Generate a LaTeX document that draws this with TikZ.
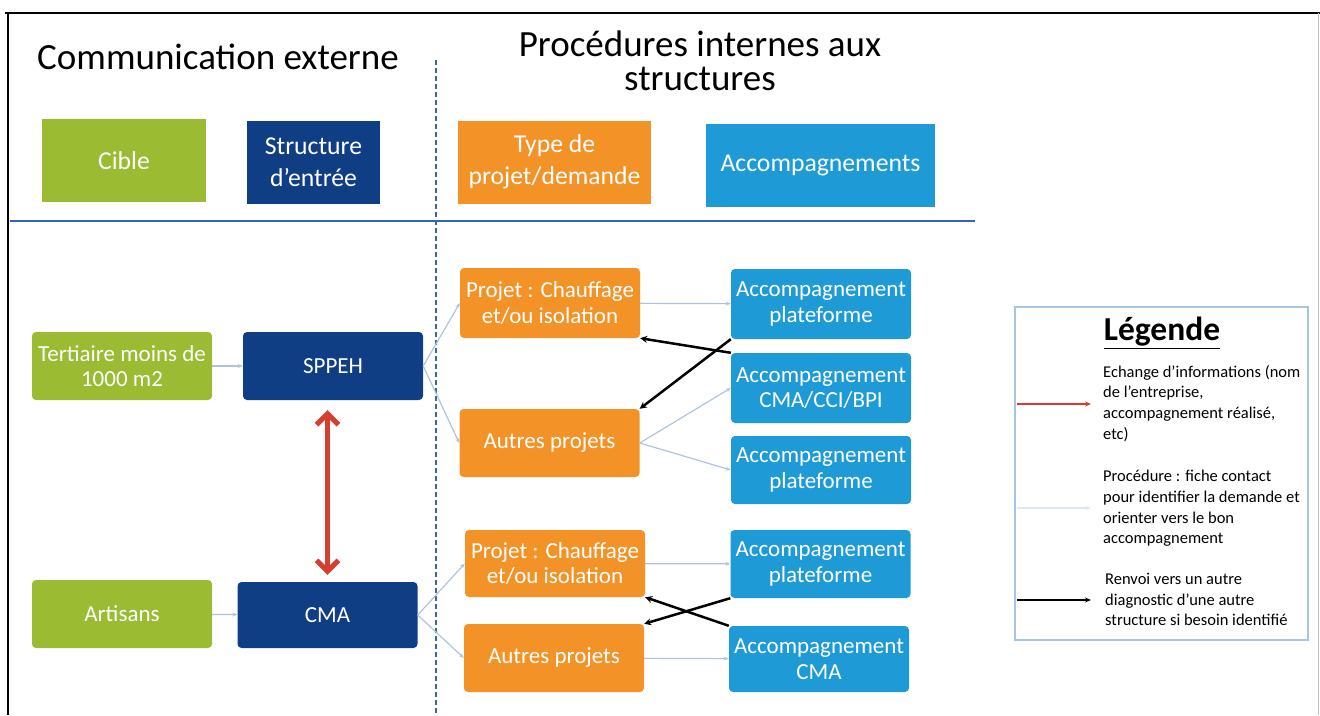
\documentclass[tikz,border=0pt]{standalone}
\usepackage{fontspec}
\setmainfont{Carlito}
\usetikzlibrary{arrows.meta}
\definecolor{vertcible}{RGB}{155,187,50}
\definecolor{bleufonce}{RGB}{16,62,133}
\definecolor{orangeprojet}{RGB}{243,146,38}
\definecolor{bleuclair}{RGB}{30,155,215}
\definecolor{bleutrait}{RGB}{50,100,190}
\definecolor{gristrait}{RGB}{175,195,225}
\definecolor{rougeechange}{RGB}{214,62,48}
\definecolor{bordlegende}{RGB}{165,198,225}
\tikzset{
	boite/.style={rounded corners=4pt, minimum width=180pt, minimum height=68pt, inner sep=2pt, text=white, align=center, font=\fontsize{23}{25.5}\selectfont},
	entete/.style={minimum height=83pt, inner sep=2pt, text=white, align=center, font=\fontsize{25.7}{32}\selectfont},
	procedure/.style={draw=gristrait, line width=1.2pt, -{Stealth[length=5pt,width=4pt]}},
	renvoi/.style={draw=black, line width=2.5pt, -{Stealth[length=7pt,width=7pt]}},
	echange/.style={draw=rougeechange, line width=5pt, {Straight Barb[length=11pt,width=22pt]}-{Straight Barb[length=11pt,width=22pt]}},
	legtexte/.style={anchor=north west, align=left, inner sep=0pt, font=\fontsize{16.5}{20.7}\selectfont}
}
\begin{document}
\begin{tikzpicture}[x=1pt, y=-1pt]
		%%%%% START %%%%%
		\useasboundingbox (0, 0) rectangle (1320, 715);
		
		\draw[line width=2pt] (5, 13) -- (1320, 13);
		\draw[line width=2.5pt] (8, 13) -- (8, 715);
		\draw[line width=1pt, color=black!25] (1318, 13) -- (1318, 715);
		
		\node[font=\fontsize{37}{34}\selectfont] (titreext) at (218, 57) {Communication externe};
		\node[align=center, font=\fontsize{37}{34}\selectfont] (titreint) at (700, 61) {Procédures internes aux\\structures};
		
		\draw[line width=2pt, color=bleutrait] (10, 221) -- (975, 221);
		\draw[line width=2pt, color=bleufonce!80, dash pattern=on 5pt off 3pt] (436, 60) -- (436, 715);
		
		% en-tetes
		\node[entete, fill=vertcible, minimum width=164pt] (cible) at (124, 160.5) {Cible};
		\node[entete, fill=bleufonce, minimum width=133pt] (entree) at (313.5, 162) {Structure\\d’entrée};
		\node[entete, fill=orangeprojet, minimum width=193pt] (type) at (554.5, 162) {Type de\\projet/demande};
		\node[entete, fill=bleuclair, minimum width=229pt] (accomp) at (820.5, 165.5) {Accompagnements};
		
		% cibles et structures
		\node[boite, fill=vertcible] (tert) at (122, 366) {Tertiaire moins de\\1000 m2};
		\node[boite, fill=bleufonce] (sppeh) at (333, 366) {SPPEH};
		\node[boite, fill=vertcible] (artisans) at (122, 614) {Artisans};
		\node[boite, fill=bleufonce, minimum height=66pt] (cma) at (327.5, 615) {CMA};
		
		% projets
		\node[boite, fill=orangeprojet, minimum height=70pt] (chauf1) at (550, 303) {Projet : Chauffage\\et/ou isolation};
		\node[boite, fill=orangeprojet] (autres1) at (549.5, 443) {Autres projets};
		\node[boite, fill=orangeprojet, minimum height=67pt] (chauf2) at (555, 563.5) {Projet : Chauffage\\et/ou isolation};
		\node[boite, fill=orangeprojet] (autres2) at (554, 658) {Autres projets};
		
		% accompagnements
		\node[boite, fill=bleuclair, minimum height=70pt] (plat1) at (821, 304) {Accompagnement\\plateforme};
		\node[boite, fill=bleuclair, minimum height=70pt] (cci) at (821, 388) {Accompagnement\\CMA/CCI/BPI};
		\node[boite, fill=bleuclair] (plat2) at (821, 470) {Accompagnement\\plateforme};
		\node[boite, fill=bleuclair] (plat3) at (820.5, 564) {Accompagnement\\plateforme};
		\node[boite, fill=bleuclair, minimum height=66pt] (cmaacc) at (819, 659) {Accompagnement\\CMA};
		
		% procedures
		\draw[procedure] (tert) -- (sppeh);
		\draw[procedure] (artisans) -- (cma);
		\draw[procedure] (sppeh.east) -- (chauf1.west);
		\draw[procedure] (sppeh.east) -- (autres1.west);
		\draw[procedure] (cma.east) -- (chauf2.west);
		\draw[procedure] (cma.east) -- (autres2.west);
		\draw[procedure] (chauf1) -- (plat1);
		\draw[procedure] (autres1.east) -- (cci.west);
		\draw[procedure] (autres1.east) -- (plat2.west);
		\draw[procedure] (chauf2) -- (plat3);
		\draw[procedure] (autres2) -- (cmaacc);
		
		% renvois
		\draw[renvoi] (cci.north west) -- (chauf1.south east);
		\draw[renvoi] (plat1.south west) -- (autres1.north east);
		\draw[renvoi] (plat3.south west) -- (autres2.north east);
		\draw[renvoi] (cmaacc.north west) -- (chauf2.south east);
		
		% echange
		\draw[echange, shorten <=10pt, shorten >=7pt] (cma.north |- sppeh.south) -- (cma.north);
		
		% legende
		\draw[line width=1.5pt, color=bordlegende] (1015, 307) rectangle (1308, 640);
		\node[font=\fontsize{33.5}{36}\selectfont\bfseries] (legtitre) at (1162, 333) {\underline{Légende}};
		\node[legtexte] (legun) at (1103, 365) {Echange d’informations (nom\\de l’entreprise,\\accompagnement réalisé,\\etc)};
		\node[legtexte] (legdeux) at (1103, 470) {Procédure : fiche contact\\pour identifier la demande et\\orienter vers le bon\\accompagnement};
		\node[legtexte] (legtrois) at (1105, 573) {Renvoi vers un autre\\diagnostic d’une autre\\structure si besoin identifié};
		\coordinate (lr0) at (1017, 404);
		\coordinate (lr1) at (1091, 404);
		\coordinate (lp0) at (1017, 508);
		\coordinate (lp1) at (1091, 508);
		\coordinate (lb0) at (1017, 600);
		\coordinate (lb1) at (1091, 600);
		\draw[draw=rougeechange, line width=2pt, -{Stealth[length=6pt,width=5pt]}] (lr0) -- (lr1);
		\draw[draw=gristrait!40, line width=1.5pt, -{Stealth[length=5pt,width=4pt]}] (lp0) -- (lp1);
		\draw[draw=black, line width=2pt, -{Stealth[length=6pt,width=5pt]}] (lb0) -- (lb1);
		
		%%%%% END %%%%%
	\end{tikzpicture}
\end{document}
